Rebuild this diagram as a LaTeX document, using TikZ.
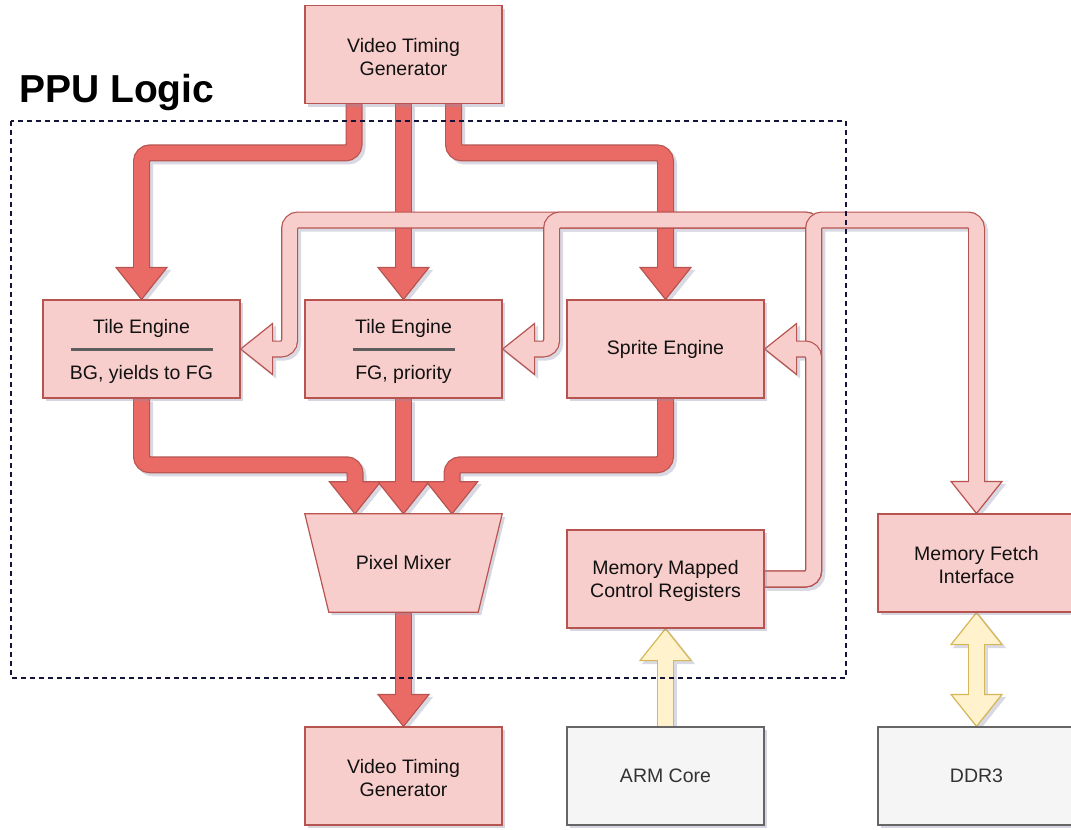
\documentclass[tikz,border=0pt]{standalone}
\usepackage{fontspec}
\setmainfont{Liberation Sans}
\usetikzlibrary{calc,shadows}
\definecolor{rstroke}{HTML}{B85450}
\definecolor{rfill}{HTML}{F8CECC}
\definecolor{dfill}{HTML}{EA6B66}
\definecolor{ystroke}{HTML}{D6B656}
\definecolor{yfill}{HTML}{FFF2CC}
\definecolor{gstroke}{HTML}{666666}
\definecolor{gfill}{HTML}{F5F5F5}
\definecolor{dashc}{HTML}{14143A}
\definecolor{txt}{HTML}{111111}
\definecolor{gtxt}{HTML}{333333}
\definecolor{sepc}{HTML}{5E5E5E}
\definecolor{shadc}{HTML}{8C8CA8}
\definecolor{shadsolid}{HTML}{D9D9E4}
\pgfdeclarelayer{shadow}
\pgfdeclarelayer{bg}
\pgfsetlayers{shadow,bg,main}
\newcommand\firstline{\rule{0pt}{18.5pt}}
\tikzset{
  box/.style={rectangle, draw=rstroke, fill=rfill, line width=1.2pt,
    minimum width=197pt, minimum height=98pt, inner sep=0pt, align=center,
    font=\fontsize{19.5}{23}\selectfont, text=txt,
    drop shadow={shadow xshift=3pt, shadow yshift=-3pt, opacity=0.35, fill=shadc}},
  gbox/.style={box, draw=gstroke, fill=gfill, text=gtxt},
  hidbox/.style={rectangle, minimum width=197pt, minimum height=98pt, inner sep=0pt,
    align=center, font=\fontsize{19.5}{23}\selectfont, text=txt},
  sepline/.style={draw=sepc, line width=2.6pt},
  darkout/.style={line width=17pt, draw=rstroke, rounded corners=8.5pt},
  darkin/.style={line width=14.6pt, draw=dfill, rounded corners=8.5pt, shorten >=-1.5pt},
  darkhead/.style={fill=dfill, draw=rstroke, line width=1.2pt, line join=miter},
  lightout/.style={line width=17pt, draw=rstroke, rounded corners=8.5pt},
  lightin/.style={line width=14.6pt, draw=rfill, rounded corners=8.5pt, shorten >=-1.5pt},
  lighthead/.style={fill=rfill, draw=rstroke, line width=1.2pt, line join=miter},
  yout/.style={line width=17pt, draw=ystroke},
  yin/.style={line width=14.6pt, draw=yfill, shorten >=-1.5pt},
  yhead/.style={fill=yfill, draw=ystroke, line width=1.2pt, line join=miter},
  shadline/.style={line width=17pt, draw=shadsolid, rounded corners=8.5pt},
  shadhead/.style={fill=shadsolid, draw=shadsolid, line width=1.2pt, line join=miter},
  dashframe/.style={draw=dashc, line width=1.3pt, dash pattern=on 5pt off 4pt},
  title/.style={font=\bfseries\fontsize{39}{40}\selectfont, text=black, inner sep=0pt}
}
\newcommand\hdown[2]{\filldraw[#1] ($(#2)+(-25.5,-32)$) -- (#2) -- ($(#2)+(25.5,-32)$) -- cycle;}
\newcommand\hup[2]{\filldraw[#1] ($(#2)+(-25.5,32)$) -- (#2) -- ($(#2)+(25.5,32)$) -- cycle;}
\newcommand\hleft[2]{\filldraw[#1] ($(#2)+(32,-25.5)$) -- (#2) -- ($(#2)+(32,25.5)$) -- cycle;}
% #1 kind (dark/light/y), #2 path, #3 head macro, #4 tip
\newcommand\flex[4]{%
  \begin{pgfonlayer}{shadow}\begin{scope}[transform canvas={shift={(3pt,-3pt)}}]
    \draw[shadline] #2; #3{shadhead}{#4}
  \end{scope}\end{pgfonlayer}
  \begin{pgfonlayer}{bg}
    \draw[#1out] #2; #3{#1head}{#4} \draw[#1in] #2;
  \end{pgfonlayer}}
\begin{document}
\begin{tikzpicture}[x=1pt,y=-1pt]
\useasboundingbox (0,0) rectangle (1071,830);
\clip (0,0) rectangle (1071,830);
\begin{pgfonlayer}{shadow}
  \fill[white] (0,0) rectangle (1071,830);
\end{pgfonlayer}

% title and frame
\node[title, anchor=base west] (ppu) at (19,102) {PPU Logic};
\draw[dashframe] (11,121) rectangle (846,678);

% boxes
\node[box] (vtgt) at (403.5,54.5) {\firstline Video Timing\\Generator};
\node[box] (tbg) at (141.5,349) {\firstline Tile Engine\\[23pt]BG, yields to FG};
\node[box] (tfg) at (403.5,349) {\firstline Tile Engine\\[23pt]FG, priority};
\node[box] (spr) at (665.5,349) {Sprite Engine};
\node[hidbox] (mix) at (403.5,563) {};
\filldraw[draw=rstroke, fill=rfill, line width=1.2pt,
  drop shadow={shadow xshift=3pt, shadow yshift=-3pt, opacity=0.35, fill=shadc}]
  (mix.north west) -- (mix.north east) -- ($(mix.south east)+(-24,0)$)
  -- ($(mix.south west)+(24,0)$) -- cycle;
\node[hidbox] at (mix.center) {Pixel Mixer};
\node[box] (mmcr) at (665.5,579) {\firstline Memory Mapped\\Control Registers};
\node[box] (mfi) at (976.5,563) {\firstline Memory Fetch\\Interface};
\node[box] (vtgb) at (403.5,776) {\firstline Video Timing\\Generator};
\node[gbox] (arm) at (665.5,776) {ARM Core};
\node[gbox] (ddr) at (976.5,776) {DDR3};

% separators
\draw[sepline] ($(tbg.center)+(-71,0.5)$) -- ($(tbg.center)+(71,0.5)$);
\draw[sepline] ($(tfg.center)+(-51,0.5)$) -- ($(tfg.center)+(51,0.5)$);

% helper coordinates
\coordinate (m1) at ($(mix.north)+(-48.5,0)$);
\coordinate (m3) at ($(mix.north)+(48.5,0)$);
\coordinate (lc) at ($(mmcr.east)+(49,0)$);
\coordinate (lt) at ($(lc)+(0,-359)$);

% video timing to engines
\flex{dark}{($(vtgt.south)+(-49.5,0)$) |- ($(tbg.north)+(0,-146.5)$) -- ($(tbg.north)+(0,-32)$)}{\hdown}{tbg.north}
\flex{dark}{(vtgt.south) -- ($(tfg.north)+(0,-32)$)}{\hdown}{tfg.north}
\flex{dark}{($(vtgt.south)+(50,0)$) |- ($(spr.north)+(0,-146.5)$) -- ($(spr.north)+(0,-32)$)}{\hdown}{spr.north}
% engines to mixer
\flex{dark}{(tbg.south) |- ($(m1)+(0,-49)$) -- ($(m1)+(0,-32)$)}{\hdown}{m1}
\flex{dark}{(tfg.south) -- ($(mix.north)+(0,-32)$)}{\hdown}{mix.north}
\flex{dark}{(spr.south) |- ($(m3)+(0,-49)$) -- ($(m3)+(0,-32)$)}{\hdown}{m3}
% mixer to output
\flex{dark}{(mix.south) -- ($(vtgb.north)+(0,-32)$)}{\hdown}{vtgb.north}
% registers to engines and fetch
\flex{light}{(mmcr.east) -- (lc) -- (lt) -| ($(tbg.east)+(49,0)$) -- ($(tbg.east)+(32,0)$)}{\hleft}{tbg.east}
\flex{light}{(mmcr.east) -- (lc) -- (lt) -| ($(tfg.east)+(49,0)$) -- ($(tfg.east)+(32,0)$)}{\hleft}{tfg.east}
\flex{light}{(mmcr.east) -- (lc) -- (lt) -| ($(mfi.north)+(0,-32)$)}{\hdown}{mfi.north}
\flex{light}{(mmcr.east) -- (lc) |- ($(spr.east)+(32,0)$)}{\hleft}{spr.east}
% ARM to registers
\flex{y}{(arm.north) -- ($(mmcr.south)+(0,32)$)}{\hup}{mmcr.south}
% fetch <-> DDR3
\begin{pgfonlayer}{shadow}\begin{scope}[transform canvas={shift={(3pt,-3pt)}}]
  \draw[shadline] ($(mfi.south)+(0,32)$) -- ($(ddr.north)+(0,-32)$);
  \hup{shadhead}{mfi.south}
  \hdown{shadhead}{ddr.north}
\end{scope}\end{pgfonlayer}
\begin{pgfonlayer}{bg}
  \draw[yout] ($(mfi.south)+(0,32)$) -- ($(ddr.north)+(0,-32)$);
  \hup{yhead}{mfi.south}
  \hdown{yhead}{ddr.north}
  \draw[yin, shorten <=-1.5pt] ($(mfi.south)+(0,32)$) -- ($(ddr.north)+(0,-32)$);
\end{pgfonlayer}
\end{tikzpicture}
\end{document}
